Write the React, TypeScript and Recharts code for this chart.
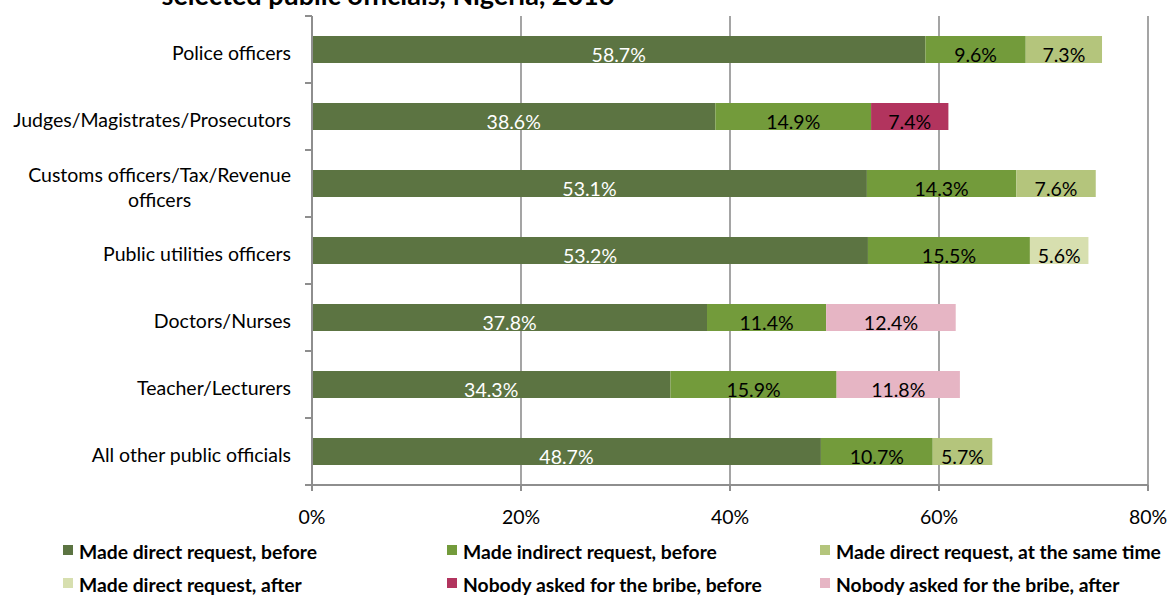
import React from 'react';
import { BarChart, Bar, XAxis, YAxis, CartesianGrid, LabelList } from 'recharts';

const categories = [
  'Police officers',
  'Judges/Magistrates/Prosecutors',
  'Customs officers/Tax/Revenue officers',
  'Public utilities officers',
  'Doctors/Nurses',
  'Teacher/Lecturers',
  'All other public officials',
];
const directBefore = [58.7, 38.6, 53.1, 53.2, 37.8, 34.3, 48.7];
const indirectBefore = [9.6, 14.9, 14.3, 15.5, 11.4, 15.9, 10.7];
const directSameTime = [7.3, null, 7.6, null, null, null, 5.7];
const directAfter = [null, null, null, 5.6, null, null, null];
const nobodyBefore = [null, 7.4, null, null, null, null, null];
const nobodyAfter = [null, null, null, null, 12.4, 11.8, null];

const xTicks = [0, 20, 40, 60, 80];
const title = 'selected public officials, Nigeria, 2016';

const seriesDefs = [
  { key: 'directBefore', name: 'Made direct request, before', color: '#5C7442', text: '#FFFFFF', values: directBefore },
  { key: 'indirectBefore', name: 'Made indirect request, before', color: '#739B3B', text: '#000000', values: indirectBefore },
  { key: 'directSameTime', name: 'Made direct request, at the same time', color: '#B4C57C', text: '#000000', values: directSameTime },
  { key: 'directAfter', name: 'Made direct request, after', color: '#D7DFAF', text: '#000000', values: directAfter },
  { key: 'nobodyBefore', name: 'Nobody asked for the bribe, before', color: '#B2345E', text: '#000000', values: nobodyBefore },
  { key: 'nobodyAfter', name: 'Nobody asked for the bribe, after', color: '#E6B5C4', text: '#000000', values: nobodyAfter },
];

const legendOrder = [
  ['directBefore', 'indirectBefore', 'directSameTime'],
  ['directAfter', 'nobodyBefore', 'nobodyAfter'],
];

const data = categories.map((name, i) => {
  const row: any = { name };
  seriesDefs.forEach((s) => {
    row[s.key] = s.values[i];
  });
  return row;
});

const W = 1172;
const H = 599;
const PLOT_LEFT = 312;
const PLOT_TOP = 16;
const PLOT_BOTTOM = 485;
const BAND = (PLOT_BOTTOM - PLOT_TOP) / categories.length;
const FONT = 'Lato, "Open Sans", sans-serif';
const AXIS_COLOR = '#8E8E8E';

let ctx: CanvasRenderingContext2D | null = null;
function measure(text: string, font: string) {
  if (!ctx) ctx = document.createElement('canvas').getContext('2d');
  if (!ctx) return text.length * 9;
  ctx.font = font;
  return ctx.measureText(text).width;
}

function wrap(text: string, maxW: number, font: string) {
  const words = text.split(' ');
  const lines: string[] = [];
  let cur = '';
  words.forEach((w) => {
    const t = cur ? cur + ' ' + w : w;
    if (measure(t, font) > maxW && cur) {
      lines.push(cur);
      cur = w;
    } else cur = t;
  });
  if (cur) lines.push(cur);
  return lines;
}

const Y_FONT_SIZE = 19.5;
const YTick = (props: any) => {
  const { y, payload, index } = props;
  const font = `${Y_FONT_SIZE}px ${FONT}`;
  const lines = wrap(String(payload.value), 285, font);
  const widths = lines.map((l) => measure(l, font));
  const blockW = Math.max(...widths);
  const right = PLOT_LEFT - 21;
  const cx = right - blockW / 2;
  const lh = 25;
  const y0 = y - ((lines.length - 1) * lh) / 2 + 3;
  return (
    <g>
      {index === 0 && (
        <line x1={PLOT_LEFT - 7} x2={PLOT_LEFT} y1={y - BAND / 2} y2={y - BAND / 2} stroke={AXIS_COLOR} strokeWidth={2} />
      )}
      <line x1={PLOT_LEFT - 7} x2={PLOT_LEFT} y1={y + BAND / 2} y2={y + BAND / 2} stroke={AXIS_COLOR} strokeWidth={2} />
      {lines.map((l, i) => (
        <text
          key={i}
          x={lines.length > 1 ? cx : right}
          y={y0 + i * lh}
          textAnchor={lines.length > 1 ? 'middle' : 'end'}
          dominantBaseline="central"
          fontSize={Y_FONT_SIZE}
          fontFamily={FONT}
          fill="#000"
        >
          {l}
        </text>
      ))}
    </g>
  );
};

const makeLabel = (fill: string) => (props: any) => {
  const { x, y, width, height, value } = props;
  if (value === null || value === undefined) return null;
  return (
    <text
      x={Number(x) + Number(width) / 2}
      y={Number(y) + Number(height) / 2 + 5}
      textAnchor="middle"
      dominantBaseline="central"
      fontSize={19.5}
      fontFamily={FONT}
      fill={fill}
    >
      {Number(value).toFixed(1)}%
    </text>
  );
};

export default function App() {
  const legendCols = [63, 447, 820];
  const legendRows = [547, 580];
  return (
    <div style={{ position: 'absolute', left: 0, top: 0, width: W, height: H, background: '#fff', overflow: 'hidden' }}>
      <BarChart
        width={W}
        height={H}
        data={data}
        layout="vertical"
        margin={{ top: PLOT_TOP, right: W - 1148, bottom: H - PLOT_BOTTOM - 45, left: 0 }}
        barSize={27}
      >
        <CartesianGrid horizontal={false} vertical stroke={AXIS_COLOR} strokeWidth={1.6} />
        <XAxis
          type="number"
          domain={[0, 80]}
          ticks={xTicks}
          tickFormatter={(v: number) => `${v}%`}
          height={45}
          stroke={AXIS_COLOR}
          strokeWidth={2}
          tickSize={6}
          tickMargin={19}
          tick={{ fill: '#000', fontSize: 19.5, fontFamily: FONT }}
          axisLine={{ stroke: AXIS_COLOR, strokeWidth: 2 }}
          tickLine={{ stroke: AXIS_COLOR, strokeWidth: 2 }}
        />
        <YAxis
          type="category"
          dataKey="name"
          width={PLOT_LEFT}
          axisLine={{ stroke: AXIS_COLOR, strokeWidth: 2 }}
          tickLine={false}
          tick={<YTick />}
          interval={0}
        />
        {seriesDefs.map((s) => (
          <Bar key={s.key} dataKey={s.key} name={s.name} stackId="a" fill={s.color} isAnimationActive={false}>
            <LabelList dataKey={s.key} content={makeLabel(s.text)} />
          </Bar>
        ))}
      </BarChart>
      <svg style={{ position: 'absolute', left: 0, top: 0 }} width={W} height={30}>
        <text x={388} y={5} textAnchor="middle" fontSize={27} fontWeight="bold" fontFamily={FONT} fill="#000">
          {title}
        </text>
      </svg>
      {legendOrder.map((row, ri) =>
        row.map((key, ci) => {
          const s = seriesDefs.find((d) => d.key === key)!;
          return (
            <div
              key={key}
              style={{
                position: 'absolute',
                left: legendCols[ci],
                top: legendRows[ri] - 5,
                height: 20,
                display: 'flex',
                alignItems: 'center',
                whiteSpace: 'nowrap',
              }}
            >
              <div style={{ width: 10, height: 10, background: s.color, marginRight: 6, marginTop: -4 }} />
              <span style={{ fontFamily: FONT, fontWeight: 'bold', fontSize: 19.3, color: '#000', lineHeight: '20px' }}>{s.name}</span>
            </div>
          );
        })
      )}
    </div>
  );
}
